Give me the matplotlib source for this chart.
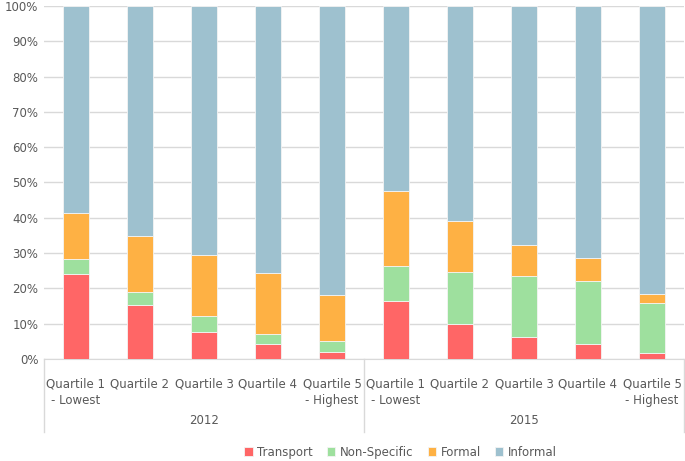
import matplotlib.pyplot as plt
import numpy as np

# --------- Data (percent of each quartile) ---------
years = ["2012", "2015"]
quartiles = ["Quartile 1\n- Lowest", "Quartile 2", "Quartile 3", "Quartile 4", "Quartile 5\n- Highest"]
transport = [24.1, 15.3, 7.7, 4.3, 2.0, 16.3, 9.9, 6.2, 4.3, 1.7]
non_specific = [4.2, 3.7, 4.4, 2.8, 3.1, 10.0, 14.7, 17.4, 17.7, 14.3]
formal = [13.0, 15.9, 17.4, 17.2, 12.9, 21.3, 14.4, 8.7, 6.7, 2.5]
informal = [58.7, 65.1, 70.5, 75.7, 82.0, 52.4, 61.0, 67.7, 71.3, 81.5]

series = [
    ("Transport", transport, "#ff6666"),
    ("Non-Specific", non_specific, "#9ee09e"),
    ("Formal", formal, "#feb144"),
    ("Informal", informal, "#9ec1cf"),
]

text_col = "#595959"
grid_col = "#d9d9d9"

fig = plt.figure(figsize=(6.85, 4.61), dpi=100)
ax = fig.add_axes([0.0642, 0.2213, 0.9343, 0.7657])

x = np.arange(len(transport))
bottom = np.zeros(len(x))
for name, vals, col in series:
    ax.bar(x, vals, width=0.41, bottom=bottom, color=col, label=name,
           edgecolor="#f4f4f4", linewidth=0.6, zorder=3)
    bottom += np.array(vals)

ax.set_xlim(-0.5, len(x) - 0.5)
ax.set_ylim(0, 100)
ax.set_yticks(np.arange(0, 101, 10))
ax.set_yticklabels([f"{v}%" for v in range(0, 101, 10)], color=text_col, fontsize=8.5)
ax.tick_params(axis="y", length=0, pad=4)
ax.grid(True, axis="y", color=grid_col, linewidth=1, zorder=0)
for s in ["top", "right", "left"]:
    ax.spines[s].set_visible(False)
ax.spines["bottom"].set_color(grid_col)

# --------- Two-level category axis ---------
ax.set_xticks([])
for i in x:
    ax.text(i, -0.052, quartiles[i % 5], transform=ax.get_xaxis_transform(),
            ha="center", va="top", fontsize=8.5, color=text_col, linespacing=1.4)
for j, yr in enumerate(years):
    ax.text(j * 5 + 2, -0.175, yr, transform=ax.get_xaxis_transform(),
            ha="center", va="center", fontsize=8.5, color=text_col)
for xb in [-0.5, 4.5, 9.5]:
    ax.plot([xb, xb], [0, -0.207], transform=ax.get_xaxis_transform(),
            color=grid_col, linewidth=1, clip_on=False)

# --------- Legend ---------
handles, labels = ax.get_legend_handles_labels()
fig.legend(handles, labels, loc="center", bbox_to_anchor=(0.585, 0.019), ncol=4,
           frameon=False, fontsize=8.5, handlelength=0.7, handleheight=0.7,
           handletextpad=0.4, columnspacing=1.2, labelcolor=text_col)

fig.savefig("out.png", dpi=100)
